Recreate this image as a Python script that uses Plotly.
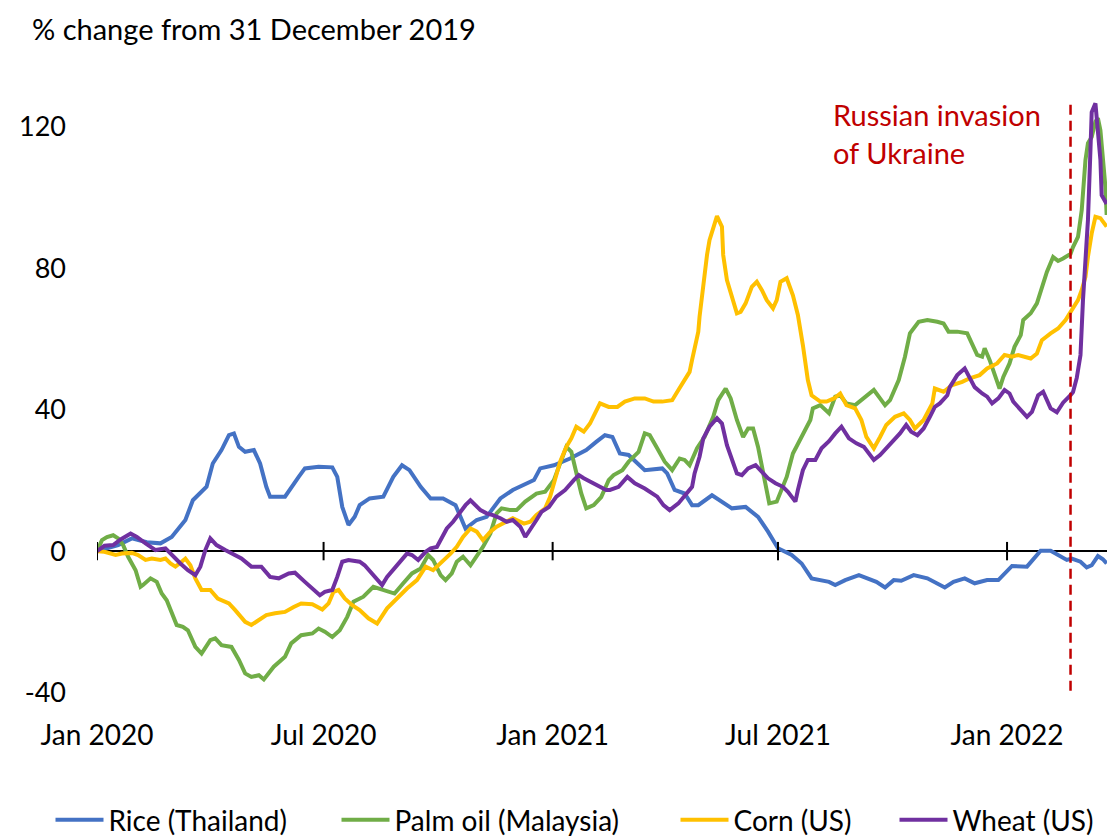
import pandas as pd
import plotly.graph_objects as go

# Day offsets are days after 1 January 2020; values are % change from 31 Dec 2019
BASE_DATE = "2020-01-01"

rice_days = [0, 17, 28, 40, 51, 60, 71, 77, 88, 93, 100, 106, 110, 114, 119, 126, 131, 136, 139, 151,
             162, 167, 178, 189, 193, 197, 202, 207, 211, 219, 230, 238, 245, 251, 260, 268, 278, 288, 296, 305,
             313, 324, 334, 351, 356, 367, 380, 393, 401, 408, 414, 420, 427, 440, 454, 458, 464, 472, 478, 483,
             494, 502, 510, 521, 531, 539, 547, 558, 566, 574, 588, 593, 601, 612, 618, 626, 633, 640, 646, 656,
             667, 675, 681, 688, 697, 705, 715, 724, 729, 735, 747, 752, 758, 766, 774, 779, 783, 790, 795, 799,
             804, 808, 811]
rice_pct = [0, 1.7, 3.6, 2.5, 2.2, 4.0, 8.8, 14.4, 18.2, 24.8, 28.6, 32.8, 33.3, 29.5, 28.1, 28.6, 24.8, 18.2, 15.4, 15.4,
            21.0, 23.4, 23.9, 23.7, 21.0, 12.5, 7.4, 9.7, 13.0, 14.9, 15.4, 21.0, 24.3, 22.9, 18.2, 14.9, 14.9, 13.0, 6.4, 8.8,
            9.7, 14.9, 17.3, 20.1, 23.4, 24.3, 26.2, 28.6, 30.9, 32.8, 32.3, 27.6, 27.2, 22.9, 23.4, 22.0, 17.3, 16.3, 13.0, 13.0,
            15.8, 14.0, 12.1, 12.5, 9.7, 5.5, 0.8, -1.1, -3.5, -7.7, -8.7, -9.6, -8.2, -6.8, -7.7, -8.7, -10.3, -8.2, -8.4, -6.8,
            -7.7, -9.3, -10.3, -8.7, -7.7, -9.1, -8.2, -8.2, -6.3, -4.2, -4.4, -2.5, 0.1, 0.1, -1.6, -2.5, -2.1, -3.0, -4.6, -4.0,
            -1.4, -2.3, -3.5]

palm_days = [0, 4, 8, 13, 17, 21, 25, 31, 35, 37, 43, 48, 52, 56, 64, 69, 73, 79, 84, 91,
             95, 100, 108, 114, 119, 124, 130, 134, 142, 151, 156, 164, 173, 178, 183, 189, 195, 201, 206, 214,
             222, 230, 239, 246, 253, 260, 266, 270, 276, 280, 285, 289, 294, 300, 305, 310, 316, 321, 325, 332,
             337, 344, 353, 360, 367, 372, 377, 381, 385, 389, 393, 399, 405, 411, 415, 422, 427, 435, 440, 444,
             450, 456, 462, 468, 472, 476, 482, 488, 495, 499, 505, 509, 514, 519, 523, 527, 531, 534, 538, 540,
             546, 550, 554, 559, 567, 573, 575, 581, 588, 593, 597, 602, 609, 616, 624, 629, 633, 637, 644, 649,
             653, 660, 667, 675, 680, 684, 691, 699, 703, 707, 711, 713, 717, 721, 725, 728, 733, 737, 742, 744,
             750, 755, 759, 763, 768, 772, 776, 782, 784, 788, 791, 794, 796, 799, 802, 804, 806, 808, 810, 811]
palm_pct = [0, 3.1, 4.0, 4.5, 3.6, 1.7, -1.6, -5.4, -10.1, -9.6, -7.7, -8.7, -12.0, -13.9, -20.9, -21.4, -22.4, -27.1, -29.0, -25.2,
            -24.7, -26.6, -27.1, -30.8, -34.6, -35.6, -35.1, -36.3, -32.7, -29.9, -26.1, -23.8, -23.3, -21.9, -22.8, -24.3, -22.4, -18.6, -14.3, -12.9,
            -10.1, -11.0, -12.0, -9.1, -6.3, -4.9, -1.1, -2.5, -6.8, -8.2, -6.3, -3.0, -1.6, -4.0, -1.6, 1.2, 5.0, 10.7, 12.1, 11.6,
            11.6, 14.0, 16.3, 16.8, 20.1, 24.8, 29.5, 28.1, 22.0, 16.3, 12.1, 13.0, 15.3, 20.1, 21.5, 22.9, 25.3, 28.1, 33.3, 32.8,
            29.1, 25.3, 22.9, 26.2, 25.8, 24.3, 29.1, 32.3, 38.0, 42.7, 46.0, 43.2, 37.1, 32.3, 34.7, 34.7, 29.5, 23.9, 17.3, 13.5,
            14.0, 17.3, 21.0, 27.6, 33.3, 37.1, 40.4, 41.3, 39.0, 43.7, 44.1, 41.8, 41.3, 43.2, 45.6, 43.2, 41.3, 42.7, 48.4, 55.0,
            61.6, 64.9, 65.4, 64.9, 64.4, 62.1, 62.1, 61.6, 58.3, 55.5, 55.0, 57.4, 54.1, 50.3, 46.0, 49.3, 53.1, 57.8, 61.1, 65.4,
            67.3, 70.1, 74.8, 79.0, 83.2, 82.1, 82.8, 84.1, 86.0, 88.9, 96.5, 110.7, 115.4, 117.2, 121.5, 122.5, 119.1, 111.6, 103.1, 95.1]

corn_days = [0, 6, 15, 20, 28, 33, 39, 44, 51, 55, 59, 63, 68, 71, 75, 79, 84, 91, 97, 106,
             111, 116, 119, 124, 130, 136, 143, 151, 158, 164, 173, 178, 181, 186, 190, 194, 199, 205, 211, 218,
             225, 233, 242, 249, 257, 264, 270, 276, 284, 289, 294, 300, 305, 310, 316, 321, 326, 334, 343, 348,
             353, 360, 364, 368, 372, 377, 381, 385, 391, 396, 401, 404, 411, 418, 424, 432, 440, 447, 454, 462,
             467, 472, 476, 478, 480, 483, 484, 486, 488, 490, 492, 496, 498, 502, 503, 506, 510, 514, 517, 521,
             526, 530, 534, 538, 543, 546, 549, 554, 559, 563, 567, 571, 574, 581, 586, 592, 597, 602, 609, 614,
             618, 624, 629, 634, 641, 648, 653, 657, 664, 671, 673, 680, 687, 695, 701, 709, 715, 723, 729, 735,
             740, 744, 750, 755, 759, 766, 772, 778, 782, 788, 791, 794, 796, 799, 802, 806, 811]
corn_pct = [0, -0.2, -1.1, -0.7, -0.5, -1.1, -2.5, -2.1, -2.5, -2.1, -3.5, -4.4, -3.0, -2.1, -4.0, -7.7, -11.0, -11.0, -13.4, -14.8,
            -16.7, -18.6, -20.0, -20.9, -19.5, -18.1, -17.6, -17.2, -15.8, -14.8, -15.0, -15.8, -16.5, -14.8, -11.5, -11.0, -13.4, -15.3, -16.7, -19.0,
            -20.5, -16.2, -12.9, -10.6, -8.2, -4.4, -5.4, -3.5, -0.7, 1.2, 4.0, 6.4, 5.5, 3.1, 5.5, 6.9, 7.8, 9.3, 7.8, 8.3,
            10.2, 12.1, 15.4, 20.1, 25.3, 29.5, 31.9, 35.2, 33.8, 36.1, 39.9, 41.8, 40.8, 40.8, 42.3, 43.2, 43.2, 42.3, 42.3, 42.7,
            45.6, 48.4, 50.7, 54.1, 57.8, 62.1, 66.3, 72.9, 79.0, 83.8, 88.0, 92.7, 94.8, 91.8, 83.8, 76.7, 71.5, 67.3, 67.7, 70.1,
            74.8, 76.2, 73.9, 71.0, 68.7, 71.0, 76.2, 77.2, 72.4, 66.8, 58.3, 48.4, 44.1, 42.3, 42.3, 43.2, 44.6, 41.3, 40.4, 37.1,
            32.3, 29.1, 32.3, 35.7, 38.0, 39.0, 37.1, 34.7, 37.1, 41.8, 46.0, 45.1, 47.0, 47.9, 48.9, 49.8, 51.7, 53.1, 55.5, 55.0,
            55.5, 55.0, 54.5, 55.9, 59.7, 61.6, 63.0, 65.4, 67.7, 71.0, 73.9, 77.6, 83.3, 89.9, 94.6, 94.2, 91.8]

wheat_days = [0, 6, 13, 19, 27, 32, 39, 47, 55, 60, 67, 73, 79, 83, 87, 91, 96, 103, 108, 116,
              124, 132, 139, 146, 154, 159, 167, 175, 179, 183, 189, 193, 197, 202, 211, 215, 221, 225, 229, 233,
              239, 245, 249, 253, 258, 264, 268, 273, 277, 281, 286, 290, 296, 300, 304, 308, 313, 318, 324, 329,
              334, 340, 344, 349, 353, 357, 363, 369, 376, 383, 387, 391, 396, 403, 409, 412, 419, 426, 432, 440,
              450, 455, 460, 467, 472, 478, 480, 484, 487, 492, 498, 502, 506, 510, 514, 518, 523, 529, 534, 539,
              545, 551, 555, 561, 563, 567, 571, 577, 582, 588, 593, 598, 604, 610, 616, 620, 624, 629, 634, 641,
              645, 650, 654, 659, 664, 669, 673, 677, 683, 685, 691, 697, 701, 705, 711, 715, 719, 724, 729, 733,
              736, 742, 747, 751, 756, 760, 766, 771, 776, 782, 784, 787, 790, 792, 794, 796, 798, 799, 802, 804,
              806, 807, 811]
wheat_pct = [0, 1.5, 1.7, 3.3, 5.0, 4.0, 2.2, 0.3, 0.8, -1.1, -3.5, -5.4, -6.8, -4.4, 0.3, 3.6, 1.7, 0.3, -0.7, -2.1,
             -4.4, -4.4, -7.3, -7.7, -6.3, -6.1, -8.7, -11.0, -12.5, -11.5, -11.0, -7.3, -3.0, -2.5, -3.0, -4.0, -6.3, -8.2, -9.6, -7.3,
             -4.9, -2.1, -0.7, -1.1, -2.5, -0.2, 0.8, 1.2, 3.6, 6.4, 8.3, 10.2, 13.0, 14.4, 13.0, 11.6, 10.7, 10.2, 9.3, 8.3,
             8.8, 6.9, 4.0, 6.4, 8.8, 11.1, 12.5, 15.4, 17.3, 20.1, 21.5, 20.6, 19.6, 18.2, 17.3, 17.3, 18.2, 21.0, 19.2, 17.7,
             15.4, 13.0, 11.6, 13.5, 15.8, 18.2, 22.0, 26.7, 31.9, 35.2, 37.6, 36.1, 30.0, 25.8, 22.0, 21.5, 23.4, 24.3, 22.4, 20.6,
             19.2, 18.2, 16.8, 14.0, 17.3, 22.9, 25.8, 25.8, 29.1, 31.1, 33.3, 35.2, 31.9, 30.5, 29.5, 27.6, 25.8, 27.2, 29.1, 31.4,
             33.3, 35.7, 33.8, 32.8, 34.7, 38.0, 40.8, 41.8, 44.1, 46.4, 49.8, 51.7, 49.3, 46.4, 44.6, 43.7, 41.8, 43.2, 45.6, 44.6,
             42.3, 39.9, 38.0, 39.4, 44.1, 45.1, 40.4, 39.3, 42.0, 44.1, 45.0, 49.0, 55.5, 71.0, 80.5, 93.7, 113.5, 124.2, 126.7, 119.7,
             110.7, 100.7, 98.2]

series_names = ["Rice (Thailand)", "Palm oil (Malaysia)", "Corn (US)", "Wheat (US)"]
series_colors = ["#4472C4", "#70AD47", "#FFC000", "#7030A0"]
series_days = [rice_days, palm_days, corn_days, wheat_days]
series_pct = [rice_pct, palm_pct, corn_pct, wheat_pct]

tick_dates = ["2020-01-01", "2020-07-01", "2021-01-01", "2021-07-01", "2022-01-01"]
tick_labels = ["Jan 2020", "Jul 2020", "Jan 2021", "Jul 2021", "Jan 2022"]
y_ticks = [-40, 0, 40, 80, 120]
y_tick_labels = ["-40", "0", "40", "80", "120"]
invasion_date = "2022-02-21"
invasion_label = "Russian invasion<br>of Ukraine"
title_text = "% change from 31 December 2019"

FONT = "Lato, 'Open Sans', sans-serif"
W, H = 1107, 852
ML, MR, MT, MB = 97, 0, 92, H - 713
PW, PH = W - ML - MR, H - MT - MB
# horizontal pixel at which each legend entry's label begins
legend_text_px = [109, 395, 734, 953]
LEGEND_Y_PX = 820
ITEMW = 48


def to_dates(days):
    return pd.Timestamp(BASE_DATE) + pd.to_timedelta(days, unit="D")


fig = go.Figure()
legend_ids = ["legend", "legend2", "legend3", "legend4"]
for name, color, d, v, lid in zip(series_names, series_colors, series_days, series_pct, legend_ids):
    assert len(d) == len(v), name
    fig.add_trace(go.Scatter(x=to_dates(d), y=v, mode="lines", name=name, legend=lid,
                             line=dict(color=color, width=4)))

shapes = []
for d in tick_dates:
    shapes.append(dict(type="line", xref="x", yref="y", x0=d, x1=d, y0=-2.6, y1=2.6,
                       line=dict(color="black", width=2)))
shapes.append(dict(type="line", xref="x", yref="y", x0=invasion_date, x1=invasion_date,
                   y0=-39.5, y1=127.5, line=dict(color="#C00000", width=2.5, dash="10px,6px")))

legend_layout = {}
for lid, tx in zip(legend_ids, legend_text_px):
    legend_layout[lid] = dict(orientation="h", x=(tx - ITEMW - 10.5 - ML) / PW, y=(713 - LEGEND_Y_PX) / PH,
                              xanchor="left", yanchor="middle", itemwidth=ITEMW,
                              font=dict(family=FONT, size=28, color="black"),
                              bgcolor="rgba(0,0,0,0)")

fig.update_layout(
    width=W, height=H,
    margin=dict(l=ML, r=MR, t=MT, b=MB),
    paper_bgcolor="white", plot_bgcolor="white",
    font=dict(family=FONT, size=27, color="black"),
    title=dict(text=title_text, xref="container", yref="container",
               x=32 / W, y=1 - 30 / H, xanchor="left", yanchor="middle",
               font=dict(family=FONT, size=29, color="black")),
    showlegend=True,
    shapes=shapes,
    annotations=[dict(text=invasion_label, xref="paper", yref="paper",
                      x=(831 - ML) / PW, y=(713 - 133.5) / PH, xanchor="left", yanchor="middle",
                      align="left", showarrow=False,
                      font=dict(family=FONT, size=29, color="#C00000"))],
    **legend_layout,
)
fig.update_xaxes(type="date", range=[BASE_DATE, "2022-03-22 07:00"],
                 tickvals=tick_dates, ticktext=tick_labels,
                 showgrid=False, zeroline=False, showline=False, ticks="",
                 tickfont=dict(family=FONT, size=28, color="black"), ticklabelstandoff=3)
fig.update_yaxes(range=[-45.8, 129.9], tickvals=y_ticks, ticktext=y_tick_labels,
                 showgrid=False, zeroline=True, zerolinecolor="black", zerolinewidth=2,
                 showline=False, ticks="", ticklabelstandoff=30,
                 tickfont=dict(family=FONT, size=27, color="black"))

fig.write_html("out.html", config={"displayModeBar": False},
               post_script="document.body.style.margin='0';document.body.style.overflow='hidden';")
